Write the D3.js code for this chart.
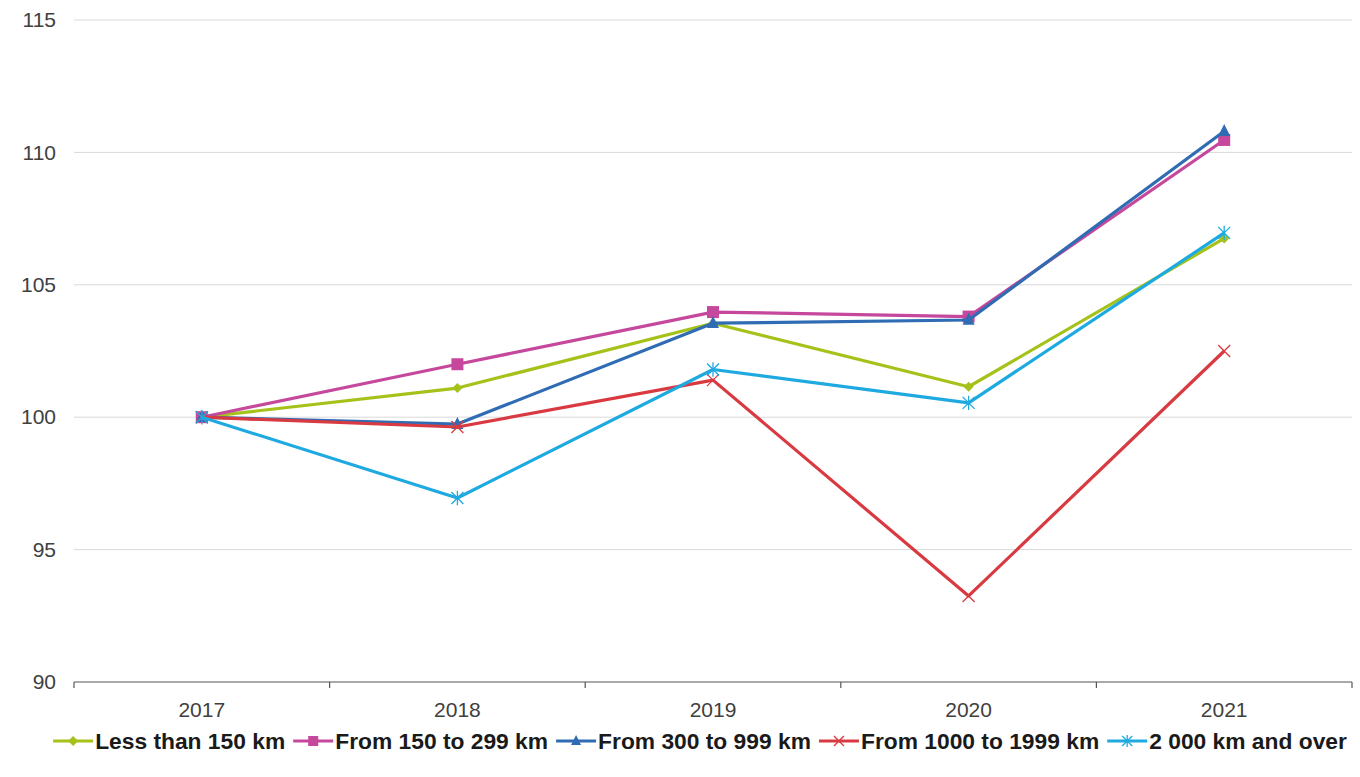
<!DOCTYPE html>
<html>
<head>
<meta charset="utf-8">
<script src="https://cdn.jsdelivr.net/npm/d3@7"></script>
<style>
  body { margin: 0; background: #fff; }
  svg { font-family: "Liberation Sans", Arial, sans-serif; }
</style>
</head>
<body>
<div id="wrapper"></div>
<script>
const years = ["2017", "2018", "2019", "2020", "2021"];
const lessThan150 = [100, 101.1, 103.55, 101.15, 106.75];
const from150to299 = [100, 102.0, 103.97, 103.8, 110.47];
const from300to999 = [100, 99.74, 103.55, 103.67, 110.8];
const from1000to1999 = [100, 99.63, 101.4, 93.25, 102.5];
const over2000 = [100, 96.95, 101.8, 100.54, 106.96];
const yTicks = [90, 95, 100, 105, 110, 115];

const series = [
    { name: "Less than 150 km", values: lessThan150, color: "#a5c21b", symbol: "diamond" },
    { name: "From 150 to 299 km", values: from150to299, color: "#c6489d", symbol: "square" },
    { name: "From 300 to 999 km", values: from300to999, color: "#2f6cb3", symbol: "triangle" },
    { name: "From 1000 to 1999 km", values: from1000to1999, color: "#d93a41", symbol: "cross" },
    { name: "2 000 km and over", values: over2000, color: "#1eaae1", symbol: "star" }
];

const dimension = {
    width: 1360,
    height: 777,
    margin: { top: 20, left: 74, right: 8, bottom: 95 }
};
dimension.boundedWidth = dimension.width - dimension.margin.left - dimension.margin.right;
dimension.boundedHeight = dimension.height - dimension.margin.top - dimension.margin.bottom;

const svg = d3.select("#wrapper").append("svg")
    .attr("width", dimension.width)
    .attr("height", dimension.height);

const bounded = svg.append("g")
    .attr("transform", `translate(${dimension.margin.left},${dimension.margin.top})`);

const xScaler = d3.scaleBand()
    .domain(years)
    .range([0, dimension.boundedWidth]);

const yScaler = d3.scaleLinear()
    .domain([90, 115])
    .range([dimension.boundedHeight, 0]);

// grid lines
bounded.append("g")
    .selectAll("line")
    .data(yTicks.filter(d => d > 90))
    .join("line")
    .attr("x1", 0)
    .attr("x2", dimension.boundedWidth)
    .attr("y1", d => yScaler(d))
    .attr("y2", d => yScaler(d))
    .attr("stroke", "#d9d9d9")
    .attr("stroke-width", 1);

// y labels
const yAxis = d3.axisLeft(yScaler).tickValues(yTicks).tickSize(0).tickPadding(18);
bounded.append("g")
    .call(yAxis)
    .call(g => g.select(".domain").remove())
    .call(g => g.selectAll("text")
        .attr("font-size", 21)
        .attr("font-family", "Liberation Sans, Arial, sans-serif")
        .attr("fill", "#404040"));

// x axis, ticks between categories
const xAxisG = bounded.append("g")
    .attr("transform", `translate(0,${dimension.boundedHeight})`);
xAxisG.append("line")
    .attr("x1", 0).attr("x2", dimension.boundedWidth)
    .attr("stroke", "#555").attr("stroke-width", 1.2);
const edges = years.map(y => xScaler(y)).concat([dimension.boundedWidth]);
xAxisG.selectAll(".tk")
    .data(edges)
    .join("line")
    .attr("class", "tk")
    .attr("x1", d => d).attr("x2", d => d)
    .attr("y1", 0).attr("y2", 6)
    .attr("stroke", "#555").attr("stroke-width", 1.2);
xAxisG.selectAll(".lbl")
    .data(years)
    .join("text")
    .attr("class", "lbl")
    .attr("x", d => xScaler(d) + xScaler.bandwidth() / 2)
    .attr("y", 35)
    .attr("text-anchor", "middle")
    .attr("font-size", 21)
    .attr("fill", "#404040")
    .text(d => d);

const lineGenerator = d3.line()
    .x((d, i) => xScaler(years[i]) + xScaler.bandwidth() / 2)
    .y(d => yScaler(d));

function drawMarker(g, symbol, color, size) {
    const s = size;
    if (symbol === "diamond") {
        g.append("path").attr("d", `M0,${-s}L${s},0L0,${s}L${-s},0Z`).attr("fill", color);
    } else if (symbol === "square") {
        g.append("rect").attr("x", -s).attr("y", -s).attr("width", 2 * s).attr("height", 2 * s).attr("fill", color);
    } else if (symbol === "triangle") {
        g.append("path").attr("d", `M0,${-s * 1.2}L${s},${s * 0.8}L${-s},${s * 0.8}Z`).attr("fill", color);
    } else if (symbol === "cross") {
        g.append("path").attr("d", `M${-s},${-s}L${s},${s}M${-s},${s}L${s},${-s}`)
            .attr("stroke", color).attr("stroke-width", 1.3).attr("fill", "none");
    } else if (symbol === "star") {
        g.append("path").attr("d", `M${-s},${-s}L${s},${s}M${-s},${s}L${s},${-s}M0,${-s * 1.2}L0,${s * 1.2}`)
            .attr("stroke", color).attr("stroke-width", 1.3).attr("fill", "none");
    }
}

series.forEach(s => {
    bounded.append("path")
        .attr("d", lineGenerator(s.values))
        .attr("fill", "none")
        .attr("stroke", s.color)
        .attr("stroke-width", 3.2)
        .attr("stroke-linejoin", "round");
    s.values.forEach((v, i) => {
        const g = bounded.append("g")
            .attr("transform", `translate(${xScaler(years[i]) + xScaler.bandwidth() / 2},${yScaler(v)})`);
        drawMarker(g, s.symbol, s.color, s.symbol === "diamond" ? 5 : 6);
    });
});

// legend
const legend = svg.append("g").attr("transform", "translate(0,741)");
const items = legend.selectAll("g").data(series).join("g");
items.append("line")
    .attr("x1", 0).attr("x2", 40)
    .attr("stroke", d => d.color).attr("stroke-width", 3.2);
items.each(function (d) {
    const g = d3.select(this).append("g").attr("transform", "translate(20,0)");
    drawMarker(g, d.symbol, d.color, 5);
});
items.append("text")
    .attr("x", 42)
    .attr("y", 8)
    .attr("font-size", 22.8)
    .attr("font-weight", "bold")
    .attr("fill", "#1a1a1a")
    .text(d => d.name);

const gap = 8;
const widths = [];
items.each(function () {
    widths.push(d3.select(this).select("text").node().getComputedTextLength() + 42);
});
const total = d3.sum(widths) + gap * (widths.length - 1);
let cursor = (52 + 1348) / 2 - total / 2;
items.attr("transform", (d, i) => {
    const x = cursor;
    cursor += widths[i] + gap;
    return `translate(${x},0)`;
});
</script>
</body>
</html>
